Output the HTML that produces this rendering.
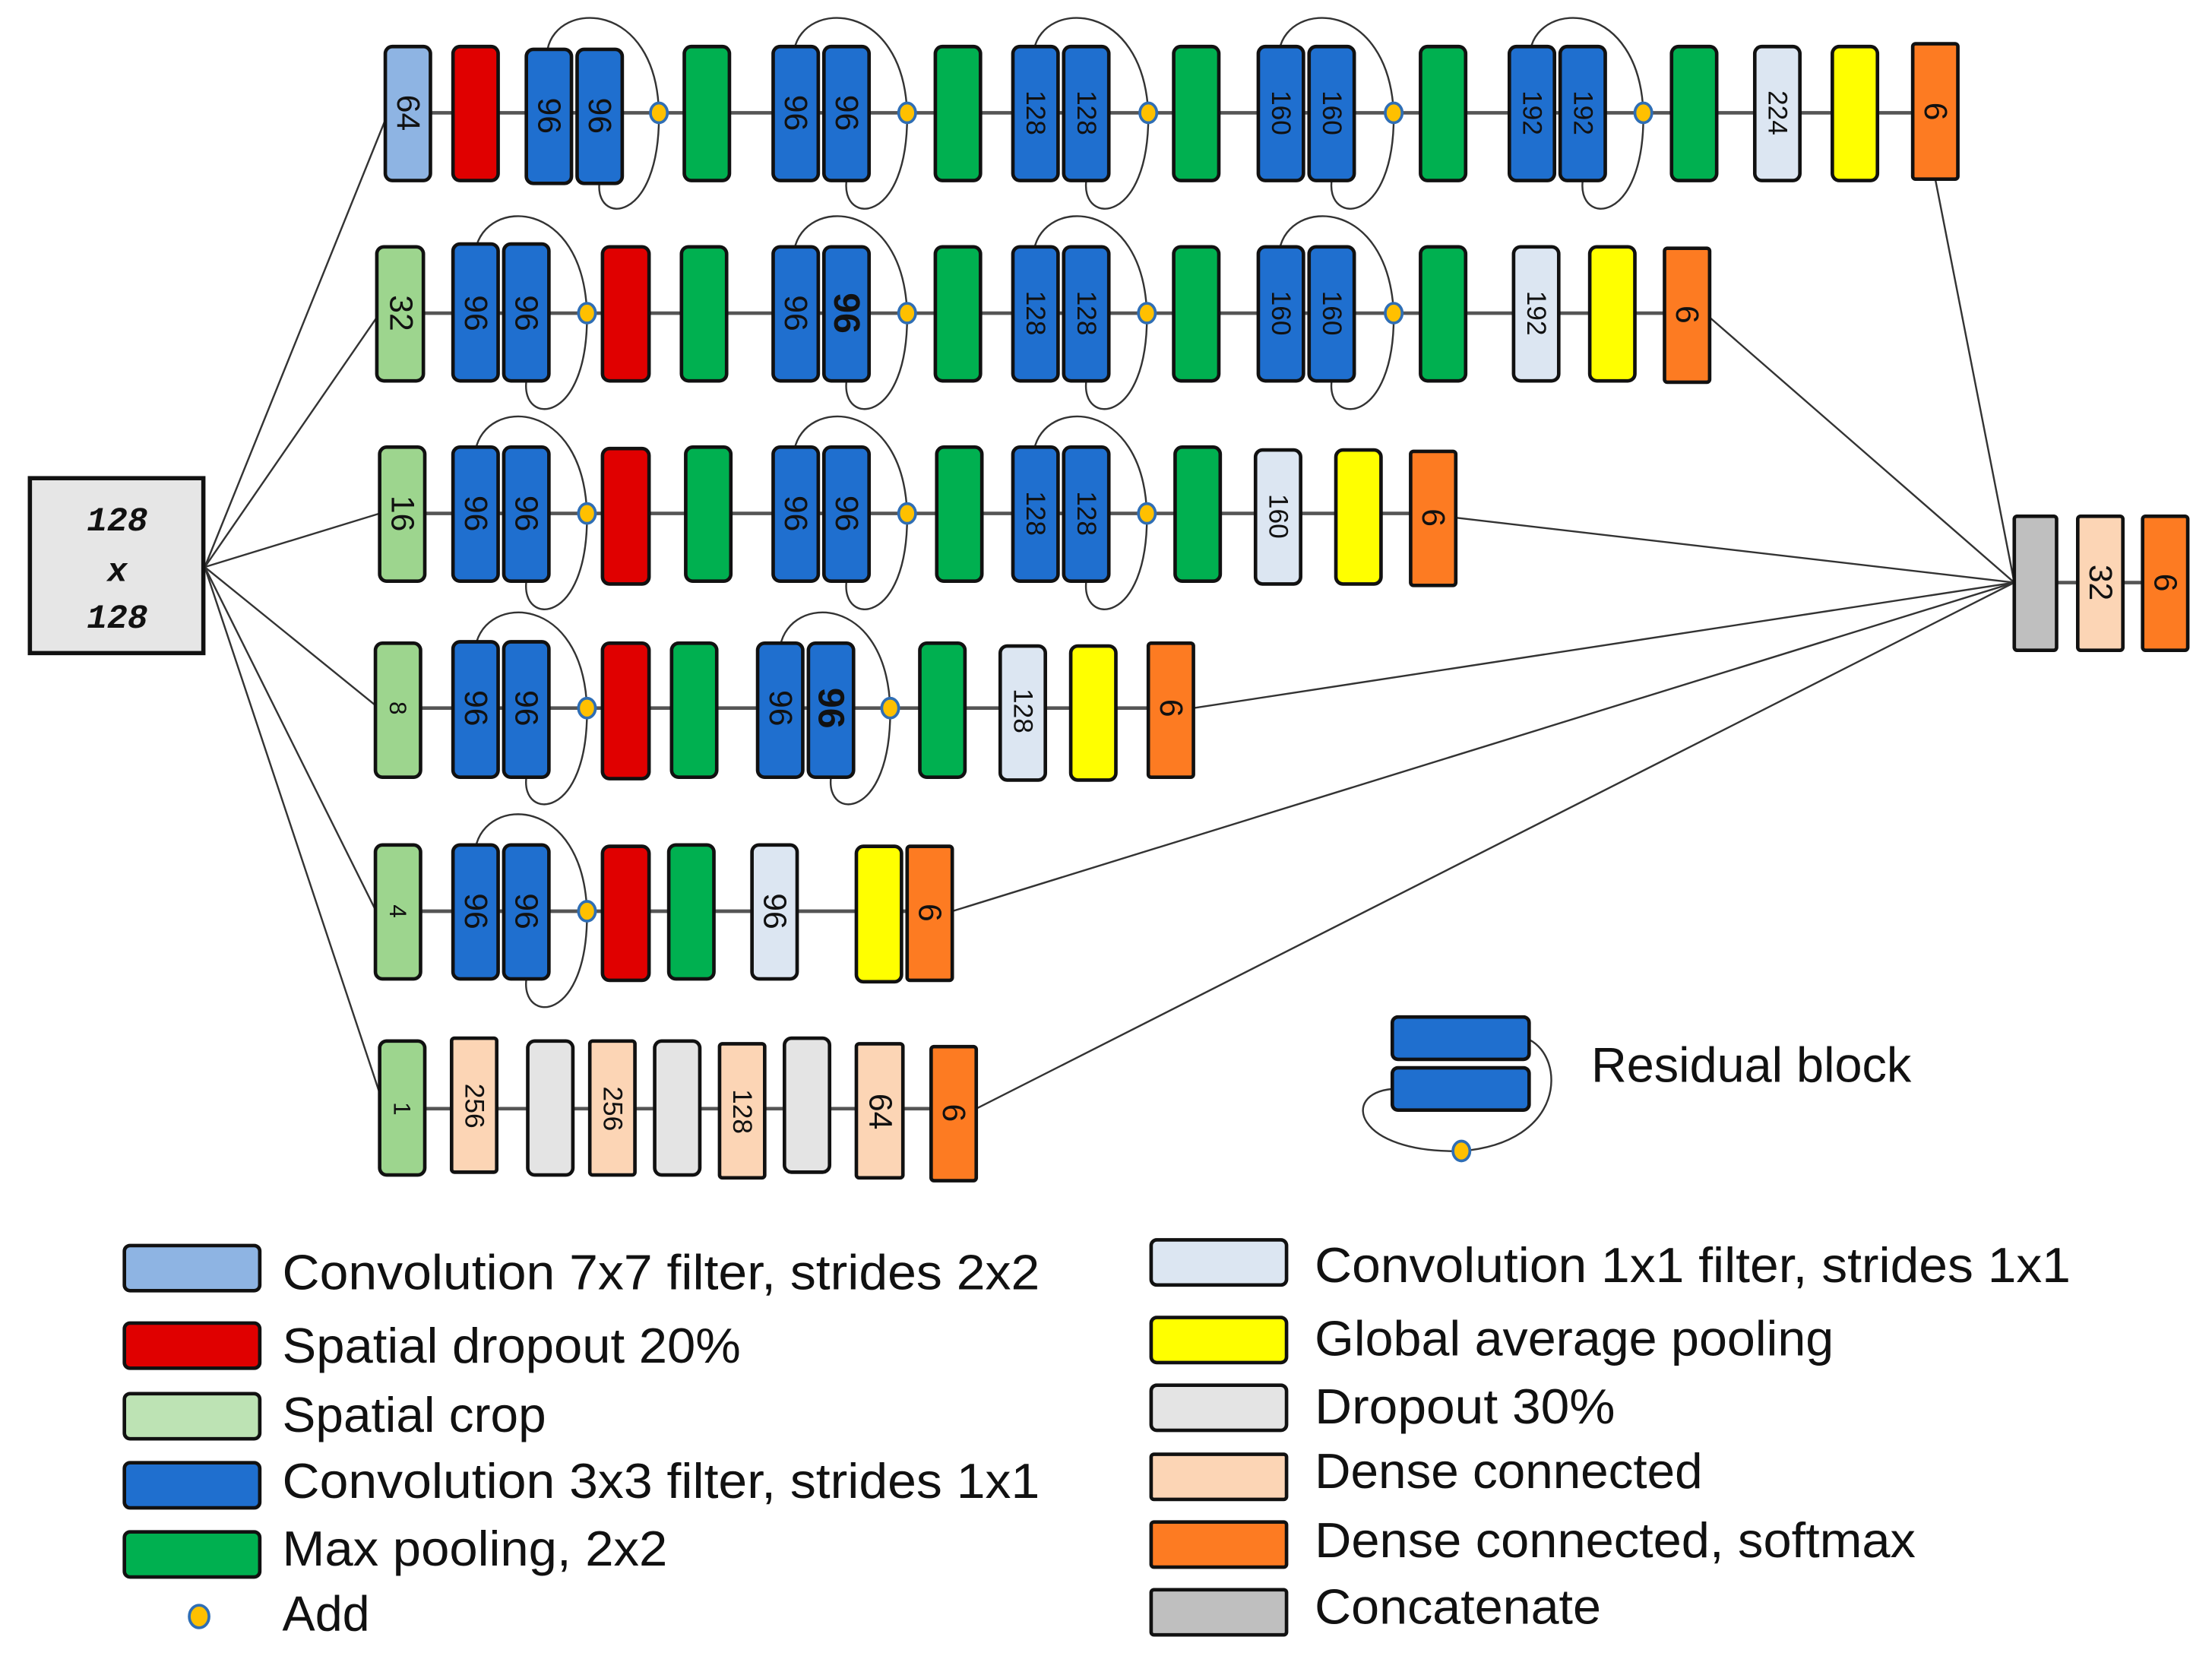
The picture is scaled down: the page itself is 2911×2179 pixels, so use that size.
<!DOCTYPE html>
<html><head><meta charset="utf-8"><style>
html,body{margin:0;padding:0;background:#fff}
svg{display:block}
.b{stroke:#111;stroke-width:2.5}
.lb{fill:#8eb4e3}.rd{fill:#e00000}.bl{fill:#1f6fcf}.gr{fill:#00b050}.lg{fill:#9dd58e}
.cw{fill:#dce6f2}.ye{fill:#ffff00}.dr{fill:#e4e4e4}.de{fill:#fcd5b5}.or{fill:#fd7b22}.cc{fill:#bfbfbf}
.t{font-family:"Liberation Sans",sans-serif;font-size:23px;fill:#111}
.lt{font-family:"Liberation Sans",sans-serif;font-size:35px;fill:#111}
.ln{stroke:#333;stroke-width:1.3;fill:none}
.rl{stroke:#555;stroke-width:2.5}
.ad{fill:#ffc000;stroke:#2f6eb5;stroke-width:2}
</style></head><body>
<svg width="2911" height="2179" viewBox="0 0 1568 1174" xmlns="http://www.w3.org/2000/svg">
<line class="rl" x1="290" y1="80" x2="1372" y2="80"/>
<line class="rl" x1="285" y1="222" x2="1196" y2="222"/>
<line class="rl" x1="285" y1="364" x2="1016" y2="364"/>
<line class="rl" x1="282" y1="502" x2="830" y2="502"/>
<line class="rl" x1="282" y1="646" x2="660" y2="646"/>
<line class="rl" x1="285" y1="786" x2="676" y2="786"/>
<line class="rl" x1="1443" y1="413" x2="1535" y2="413"/>
<g class="ln">
<line x1="145" y1="402" x2="273" y2="85"/>
<line x1="145" y1="402" x2="267" y2="225"/>
<line x1="145" y1="402" x2="269" y2="364"/>
<line x1="145" y1="402" x2="266" y2="500"/>
<line x1="145" y1="402" x2="266" y2="645"/>
<line x1="145" y1="402" x2="269" y2="775"/>
<line x1="1372" y1="127" x2="1428" y2="413"/>
<line x1="1212" y1="225" x2="1428" y2="413"/>
<line x1="1032" y1="367" x2="1428" y2="413"/>
<line x1="846" y1="502" x2="1428" y2="413"/>
<line x1="675" y1="646" x2="1428" y2="413"/>
<line x1="692" y1="786" x2="1428" y2="413"/>
</g>
<g class="ln">
<path d="M388,35 C395,0 465,0 467,80 C468,160 420,160 425,128"/>
<path d="M563,35 C570,0 640,0 643,80 C644,160 596,160 600,128"/>
<path d="M733,35 C740,0 810,0 814,80 C815,160 766,160 770,128"/>
<path d="M907,35 C914,0 984,0 988,80 C989,160 940,160 944,128"/>
<path d="M1085,35 C1092,0 1162,0 1165,80 C1166,160 1118,160 1122,128"/>
<path d="M337,177 C344,140 413,140 416,222 C417,302 369,302 373,270"/>
<path d="M563,177 C570,140 640,140 643,222 C644,302 596,302 600,270"/>
<path d="M733,177 C740,140 810,140 813,222 C814,302 766,302 770,270"/>
<path d="M907,177 C914,140 984,140 988,222 C989,302 940,302 944,270"/>
<path d="M337,319 C344,282 413,282 416,364 C417,444 369,444 373,412"/>
<path d="M563,319 C570,282 640,282 643,364 C644,444 596,444 600,412"/>
<path d="M733,319 C740,282 810,282 813,364 C814,444 766,444 770,412"/>
<path d="M337,458 C344,421 413,421 416,502 C417,582 369,582 373,551"/>
<path d="M553,458 C560,421 628,421 631,502 C632,582 585,582 589,551"/>
<path d="M337,601 C344,564 413,564 416,646 C417,726 369,726 373,694"/>
</g>
<rect x="21" y="339" width="123" height="124" fill="#e6e6e6" stroke="#111" stroke-width="3"/>
<g font-family="Liberation Mono,monospace" font-style="italic" font-weight="bold" font-size="24" text-anchor="middle" fill="#111">
<text x="83" y="376">128</text><text x="83" y="412">x</text><text x="83" y="445">128</text></g>

<g class="b">
<rect class="lb" x="273" y="33" width="32" height="95" rx="5"/>
<rect class="rd" x="321" y="33" width="32" height="95" rx="5"/>
<rect class="bl" x="373" y="35" width="32" height="95" rx="5"/>
<rect class="bl" x="409" y="35" width="32" height="95" rx="5"/>
<rect class="gr" x="485" y="33" width="32" height="95" rx="5"/>
<rect class="bl" x="548" y="33" width="32" height="95" rx="5"/>
<rect class="bl" x="584" y="33" width="32" height="95" rx="5"/>
<rect class="gr" x="663" y="33" width="32" height="95" rx="5"/>
<rect class="bl" x="718" y="33" width="32" height="95" rx="5"/>
<rect class="bl" x="754" y="33" width="32" height="95" rx="5"/>
<rect class="gr" x="832" y="33" width="32" height="95" rx="5"/>
<rect class="bl" x="892" y="33" width="32" height="95" rx="5"/>
<rect class="bl" x="928" y="33" width="32" height="95" rx="5"/>
<rect class="gr" x="1007" y="33" width="32" height="95" rx="5"/>
<rect class="bl" x="1070" y="33" width="32" height="95" rx="5"/>
<rect class="bl" x="1106" y="33" width="32" height="95" rx="5"/>
<rect class="gr" x="1185" y="33" width="32" height="95" rx="5"/>
<rect class="cw" x="1244" y="33" width="32" height="95" rx="5"/>
<rect class="ye" x="1299" y="33" width="32" height="95" rx="5"/>
<rect class="or" x="1356" y="31" width="32" height="96" rx="2"/>
</g>
<g class="b">
<rect class="lg" x="267" y="175" width="33" height="95" rx="5"/>
<rect class="bl" x="321" y="173" width="32" height="97" rx="5"/>
<rect class="bl" x="357" y="173" width="32" height="97" rx="5"/>
<rect class="rd" x="427" y="175" width="33" height="95" rx="5"/>
<rect class="gr" x="483" y="175" width="32" height="95" rx="5"/>
<rect class="bl" x="548" y="175" width="32" height="95" rx="5"/>
<rect class="bl" x="584" y="175" width="32" height="95" rx="5"/>
<rect class="gr" x="663" y="175" width="32" height="95" rx="5"/>
<rect class="bl" x="718" y="175" width="32" height="95" rx="5"/>
<rect class="bl" x="754" y="175" width="32" height="95" rx="5"/>
<rect class="gr" x="832" y="175" width="32" height="95" rx="5"/>
<rect class="bl" x="892" y="175" width="32" height="95" rx="5"/>
<rect class="bl" x="928" y="175" width="32" height="95" rx="5"/>
<rect class="gr" x="1007" y="175" width="32" height="95" rx="5"/>
<rect class="cw" x="1073" y="175" width="32" height="95" rx="5"/>
<rect class="ye" x="1127" y="175" width="32" height="95" rx="5"/>
<rect class="or" x="1180" y="176" width="32" height="95" rx="2"/>
</g>
<g class="b">
<rect class="lg" x="269" y="317" width="32" height="95" rx="5"/>
<rect class="bl" x="321" y="317" width="32" height="95" rx="5"/>
<rect class="bl" x="357" y="317" width="32" height="95" rx="5"/>
<rect class="rd" x="427" y="318" width="33" height="96" rx="5"/>
<rect class="gr" x="486" y="317" width="32" height="95" rx="5"/>
<rect class="bl" x="548" y="317" width="32" height="95" rx="5"/>
<rect class="bl" x="584" y="317" width="32" height="95" rx="5"/>
<rect class="gr" x="664" y="317" width="32" height="95" rx="5"/>
<rect class="bl" x="718" y="317" width="32" height="95" rx="5"/>
<rect class="bl" x="754" y="317" width="32" height="95" rx="5"/>
<rect class="gr" x="833" y="317" width="32" height="95" rx="5"/>
<rect class="cw" x="890" y="319" width="32" height="95" rx="5"/>
<rect class="ye" x="947" y="319" width="32" height="95" rx="5"/>
<rect class="or" x="1000" y="320" width="32" height="95" rx="2"/>
</g>
<g class="b">
<rect class="lg" x="266" y="456" width="32" height="95" rx="5"/>
<rect class="bl" x="321" y="455" width="32" height="96" rx="5"/>
<rect class="bl" x="357" y="455" width="32" height="96" rx="5"/>
<rect class="rd" x="427" y="456" width="33" height="96" rx="5"/>
<rect class="gr" x="476" y="456" width="32" height="95" rx="5"/>
<rect class="bl" x="537" y="456" width="32" height="95" rx="5"/>
<rect class="bl" x="573" y="456" width="32" height="95" rx="5"/>
<rect class="gr" x="652" y="456" width="32" height="95" rx="5"/>
<rect class="cw" x="709" y="458" width="32" height="95" rx="5"/>
<rect class="ye" x="759" y="458" width="32" height="95" rx="5"/>
<rect class="or" x="814" y="456" width="32" height="95" rx="2"/>
</g>
<g class="b">
<rect class="lg" x="266" y="599" width="32" height="95" rx="5"/>
<rect class="bl" x="321" y="599" width="32" height="95" rx="5"/>
<rect class="bl" x="357" y="599" width="32" height="95" rx="5"/>
<rect class="rd" x="427" y="600" width="33" height="95" rx="5"/>
<rect class="gr" x="474" y="599" width="32" height="95" rx="5"/>
<rect class="cw" x="533" y="599" width="32" height="95" rx="5"/>
<rect class="ye" x="607" y="600" width="32" height="96" rx="5"/>
<rect class="or" x="643" y="600" width="32" height="95" rx="2"/>
</g>
<g class="b">
<rect class="lg" x="269" y="738" width="32" height="95" rx="5"/>
<rect class="de" x="320" y="736" width="32" height="95" rx="2"/>
<rect class="dr" x="374" y="738" width="32" height="95" rx="5"/>
<rect class="de" x="418" y="738" width="32" height="95" rx="2"/>
<rect class="dr" x="464" y="738" width="32" height="95" rx="5"/>
<rect class="de" x="510" y="740" width="32" height="95" rx="2"/>
<rect class="dr" x="556" y="736" width="32" height="95" rx="5"/>
<rect class="de" x="607" y="740" width="33" height="95" rx="2"/>
<rect class="or" x="660" y="742" width="32" height="95" rx="2"/>
</g>
<g class="b">
<rect class="cc" x="1428" y="366" width="30" height="95" rx="2"/>
<rect class="de" x="1473" y="366" width="32" height="95" rx="2"/>
<rect class="or" x="1519" y="366" width="32" height="95" rx="2"/>
</g>
<g class="ad">
<ellipse cx="467" cy="80" rx="6" ry="7"/><ellipse cx="643" cy="80" rx="6" ry="7"/><ellipse cx="814" cy="80" rx="6" ry="7"/><ellipse cx="988" cy="80" rx="6" ry="7"/><ellipse cx="1165" cy="80" rx="6" ry="7"/>
<ellipse cx="416" cy="222" rx="6" ry="7"/><ellipse cx="643" cy="222" rx="6" ry="7"/><ellipse cx="813" cy="222" rx="6" ry="7"/><ellipse cx="988" cy="222" rx="6" ry="7"/>
<ellipse cx="416" cy="364" rx="6" ry="7"/><ellipse cx="643" cy="364" rx="6" ry="7"/><ellipse cx="813" cy="364" rx="6" ry="7"/>
<ellipse cx="416" cy="502" rx="6" ry="7"/><ellipse cx="631" cy="502" rx="6" ry="7"/>
<ellipse cx="416" cy="646" rx="6" ry="7"/>
</g>
<g class="t" text-anchor="middle" dominant-baseline="central">
<text transform="translate(289,80) rotate(90)">64</text>
<text transform="translate(389,82) rotate(90)">96</text><text transform="translate(425,82) rotate(90)">96</text>
<text transform="translate(564,80) rotate(90)">96</text><text transform="translate(600,80) rotate(90)">96</text>
<text transform="translate(734,80) rotate(90)" font-size="19">128</text><text transform="translate(770,80) rotate(90)" font-size="19">128</text>
<text transform="translate(908,80) rotate(90)" font-size="19">160</text><text transform="translate(944,80) rotate(90)" font-size="19">160</text>
<text transform="translate(1086,80) rotate(90)" font-size="19">192</text><text transform="translate(1122,80) rotate(90)" font-size="19">192</text>
<text transform="translate(1260,80) rotate(90)" font-size="19">224</text>
<text transform="translate(1372,79) rotate(90)">6</text>

<text transform="translate(284,222) rotate(90)">32</text>
<text transform="translate(337,222) rotate(90)">96</text><text transform="translate(373,222) rotate(90)">96</text>
<text transform="translate(564,222) rotate(90)">96</text><text transform="translate(600,222) rotate(90)" font-weight="bold" font-size="26">96</text>
<text transform="translate(734,222) rotate(90)" font-size="19">128</text><text transform="translate(770,222) rotate(90)" font-size="19">128</text>
<text transform="translate(908,222) rotate(90)" font-size="19">160</text><text transform="translate(944,222) rotate(90)" font-size="19">160</text>
<text transform="translate(1089,222) rotate(90)" font-size="19">192</text>
<text transform="translate(1196,223) rotate(90)">6</text>

<text transform="translate(285,364) rotate(90)">16</text>
<text transform="translate(337,364) rotate(90)">96</text><text transform="translate(373,364) rotate(90)">96</text>
<text transform="translate(564,364) rotate(90)">96</text><text transform="translate(600,364) rotate(90)">96</text>
<text transform="translate(734,364) rotate(90)" font-size="19">128</text><text transform="translate(770,364) rotate(90)" font-size="19">128</text>
<text transform="translate(906,366) rotate(90)" font-size="19">160</text>
<text transform="translate(1016,367) rotate(90)">6</text>

<text transform="translate(282,502) rotate(90)" font-size="17">8</text>
<text transform="translate(337,502) rotate(90)">96</text><text transform="translate(373,502) rotate(90)">96</text>
<text transform="translate(553,502) rotate(90)">96</text><text transform="translate(589,502) rotate(90)" font-weight="bold" font-size="26">96</text>
<text transform="translate(725,504) rotate(90)" font-size="19">128</text>
<text transform="translate(830,502) rotate(90)">6</text>

<text transform="translate(282,646) rotate(90)" font-size="17">4</text>
<text transform="translate(337,646) rotate(90)">96</text><text transform="translate(373,646) rotate(90)">96</text>
<text transform="translate(549,646) rotate(90)">96</text>
<text transform="translate(659,647) rotate(90)">6</text>

<text transform="translate(285,786) rotate(90)" font-size="17">1</text>
<text transform="translate(336,784) rotate(90)" font-size="19">256</text>
<text transform="translate(434,786) rotate(90)" font-size="19">256</text>
<text transform="translate(526,788) rotate(90)" font-size="19">128</text>
<text transform="translate(624,788) rotate(90)">64</text>
<text transform="translate(676,789) rotate(90)">6</text>

<text transform="translate(1489,413) rotate(90)">32</text>
<text transform="translate(1535,413) rotate(90)">6</text>
</g>

<path class="ln" d="M1084,737 C1110,750 1110,810 1036,816 C960,818 950,775 987,772"/>
<g class="b">
<rect class="bl" x="987" y="721" width="97" height="30" rx="4"/>
<rect class="bl" x="987" y="757" width="97" height="30" rx="4"/>
</g>
<ellipse class="ad" cx="1036" cy="816" rx="6" ry="7"/>
<text class="lt" x="1128" y="767" textLength="227" lengthAdjust="spacingAndGlyphs">Residual block</text>

<g class="b">
<rect class="lb" x="88" y="883" width="96" height="32" rx="4"/>
<rect class="rd" x="88" y="938" width="96" height="32" rx="4"/>
<rect fill="#bde3b4" x="88" y="988" width="96" height="32" rx="4"/>
<rect class="bl" x="88" y="1037" width="96" height="32" rx="4"/>
<rect class="gr" x="88" y="1086" width="96" height="32" rx="4"/>
<rect class="cw" x="816" y="879" width="96" height="32" rx="4"/>
<rect class="ye" x="816" y="934" width="96" height="32" rx="4"/>
<rect class="dr" x="816" y="982" width="96" height="32" rx="4"/>
<rect class="de" x="816" y="1031" width="96" height="32" rx="2"/>
<rect class="or" x="816" y="1079" width="96" height="32" rx="2"/>
<rect class="cc" x="816" y="1127" width="96" height="32" rx="2"/>
</g>
<ellipse class="ad" cx="141" cy="1146" rx="7" ry="8"/>
<g class="lt" lengthAdjust="spacingAndGlyphs">
<text x="200" y="914" textLength="537" lengthAdjust="spacingAndGlyphs">Convolution 7x7 filter, strides 2x2</text>
<text x="200" y="966" textLength="325" lengthAdjust="spacingAndGlyphs">Spatial dropout 20%</text>
<text x="200" y="1015" textLength="187" lengthAdjust="spacingAndGlyphs">Spatial crop</text>
<text x="200" y="1062" textLength="537" lengthAdjust="spacingAndGlyphs">Convolution 3x3 filter, strides 1x1</text>
<text x="200" y="1110" textLength="273" lengthAdjust="spacingAndGlyphs">Max pooling, 2x2</text>
<text x="200" y="1156" textLength="62" lengthAdjust="spacingAndGlyphs">Add</text>
<text x="932" y="909" textLength="536" lengthAdjust="spacingAndGlyphs">Convolution 1x1 filter, strides 1x1</text>
<text x="932" y="961" textLength="368" lengthAdjust="spacingAndGlyphs">Global average pooling</text>
<text x="932" y="1009" textLength="213" lengthAdjust="spacingAndGlyphs">Dropout 30%</text>
<text x="932" y="1055" textLength="275" lengthAdjust="spacingAndGlyphs">Dense connected</text>
<text x="932" y="1104" textLength="426" lengthAdjust="spacingAndGlyphs">Dense connected, softmax</text>
<text x="932" y="1151" textLength="203" lengthAdjust="spacingAndGlyphs">Concatenate</text>
</g>
</svg>
</body></html>
